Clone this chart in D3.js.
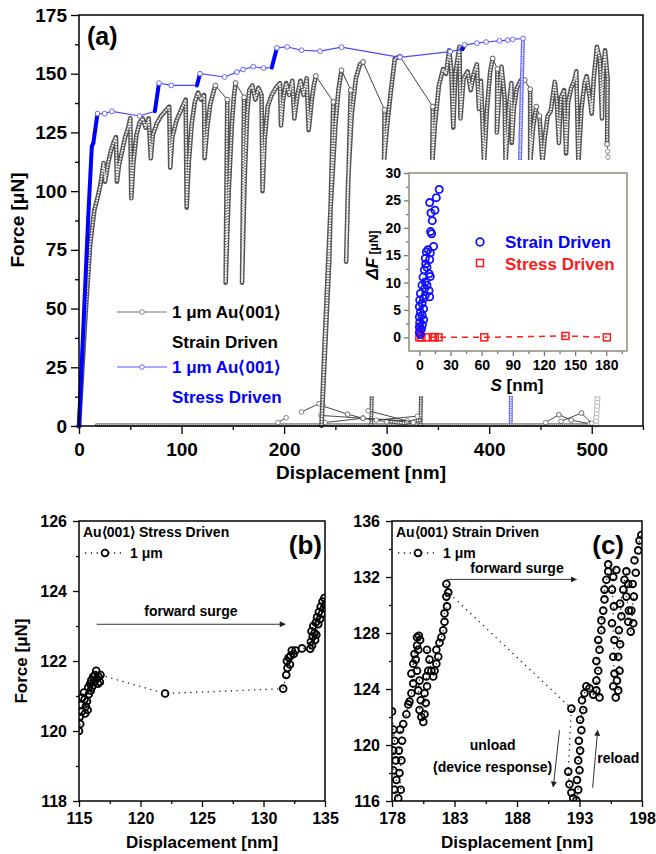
<!DOCTYPE html>
<html>
<head>
<meta charset="utf-8">
<script src="https://cdn.jsdelivr.net/npm/d3@7"></script>
<style>
  body { margin: 0; background: #fff; }
  svg text { font-family: "Liberation Sans", Arial, sans-serif; font-weight: bold; }
</style>
</head>
<body>
<div id="chart"></div>
<script>
///////////////////////////////////////////////
// Data ///////////////////////////////////////
///////////////////////////////////////////////

// (a) stress driven, displacement [nm] / force [uN]
var stressMain = [[0,0],[9,89],[12.5,119],[14,120.5],[18,133],[25,133],[32,134],[59,132],[74,134],[78,146],
  [90,145],[115,145],[118,150],[142,148.6],[154,150.7],[160,151.8],[170,153],[180,152.4],[188,152.6],[193,161],
  [203,161.4],[217,160],[235,159.6],[256,161.3],[313,157],[362,159.4],[374,160.5],[376,162.3],[388,163],
  [397,163.5],[410,164],[418,164.3],[423,164.6],[433,165]];
var stressDrop = [[433,165],[431.5,140],[430,112]];
var stressBottom = [[421,1.8],[421.2,13]];

// (a) strain driven, dense runs joined by forward surges
var strainRuns = [
  [[0,0],[6,45],[11,78],[15,92],[18,97],[21,103],[24,112],[25.5,104],[28,111],[31,117],[34,121],[36,123],[37,104],
   [39,111],[42,117],[45,123],[48,127],[50,131],[51,97],[53,112],[56,124],[59,129],[62,131],[65,127],[68,131],[70,114],
   [72,124],[76,129],[80,132],[84,134],[88,136],[89,110],[91,123],[95,130],[99,134],[104,139],[105,93],[107,112],
   [110,129],[113,138],[116,142],[119,139],[122,141],[122.5,114],[125,127],[128,137],[131,142],[133,145]],
  [[144.6,139],[143,61],[146,100],[149,128],[151,140],[152.7,146]],
  [[161,140],[159,61],[161.5,105],[164,133],[166,143],[169,145],[172,139],[175,144],[178,141],[179,100],[181,122],
   [184,136],[188,141],[192,144],[196,146],[197,128],[199,139],[202,146],[205,141],[208,147],[210,131],[213,141],
   [216,147],[219,141],[222,148],[224,126],[227,139],[229,145],[231,149]],
  [[248,138],[244,70],[236.5,0],[239,30],[245,90],[250,128],[253,143],[256,151.5]],
  [[265,143],[260.5,70],[262.5,105],[266,133],[270,148],[274,154],[277,155]],
  [[298,134.6],[297.5,113],[300,126],[304,142],[308,156.5],[313,157.3]],
  [[345,136],[344.5,112],[347,128],[351,145],[355,152],[358,150],[361,160],[363,152],[365,127],[367,150],[371,161.5],
   [372,131],[375,148],[379,151],[382,143],[385,150],[388,154],[390,135],[392,147],[395,112],[398,136],[401,151],[403.5,156.5]],
  [[408,152],[407.5,125],[410,143],[412,153],[415,140],[416,112],[419,135],[421.7,146],[422,120.5],[424,135],[427,144],
   [431,147.3],[434.7,147.3]],
  [[440,143.4],[440,112],[443,128],[446,136]],
  [[449,132],[452,112],[454,122],[457,132],[460,134],[464,146.5],[466,138],[468,120.5],[470,140],[473,143],[475,116],
   [477,138],[480,144],[483,147],[485,151],[487,112],[490,135],[493,146],[495,149],[498,140],[500,133],[502,148],
   [505,161.5],[508,156],[510,131],[511,150],[513,160],[515.5,148],[515,120]]
];
var strainTail = [[515,120],[515.5,117],[515.8,114.5],[516,112],[516,110]];
var strainBase = [[17,0.4],[500,0.4]];
var strainBottomBits = [[[285,0.5],[285.5,13]], [[333,0.5],[333.5,13]], [[300,2],[318,1.2],[333,2.5]]];
var clutterLines = [[[194,1.5],[202,3.5]], [[217,6],[234,9.5]], [[236,4.5],[277,3.3]], [[238,8.5],[262,5]],
  [[262,5],[277,3.3]], [[240,1.5],[277,3.3]], [[277,3.3],[300,1.8]], [[277,3.3],[320,2.2]], [[282,6.5],[326,1.5]],
  [[290,2.5],[330,4.2]], [[455,1.5],[468,4.8]], [[468,4.8],[480,2.5]], [[470,2],[490,5.5]], [[480,2.5],[498,1]],
  [[490,5.5],[500,1.2]]];
var openColumn = [[504.2,0.6],[504.4,2.2],[504.6,3.8],[504.8,5.4],[505,7],[505.2,8.6],[505.4,10.2],[505.6,11.8],[505.8,13.2]];

// inset, surge length S [nm] / force drop [uN]
var insetStrain = [[19.1,27.0],[16.3,25.5],[9.9,24.6],[15.0,23.2],[11.2,22.7],[12.4,21.3],[10.8,19.3],[11.8,18.9],
  [13.7,16.6],[8.3,16.0],[6.7,15.6],[10.5,15.4],[5.7,14.4],[9.9,14.2],[6.1,13.4],[7.3,12.8],[4.8,12.3],[9.3,11.6],
  [10.5,11.1],[3.5,11.0],[5.7,10.1],[2.6,9.5],[7.3,9.5],[5.1,8.9],[9.3,8.5],[1.0,8.0],[5.7,7.7],[9.9,7.4],[4.1,7.1],
  [0.3,6.8],[2.6,6.2],[0,5.6],[4.1,5.2],[1.0,4.6],[2.6,4.0],[0,3.7],[4.1,3.2],[0.3,2.7],[2.9,2.3],[0,1.9],[2.0,1.5],
  [0,0.9],[1.0,0.5]];
var insetStress = [[0,0],[0.5,1.3],[2,0],[6.7,0],[13,0],[14.7,0.05],[18.5,0],[62.5,0],[140.7,0.25],[180.6,0]];

// (b) stress driven detail
var panelB = [[115.0,120.0],[115.1,120.2],[115.05,120.4],[115.2,120.55],[115.15,120.75],[115.25,120.95],[115.4,121.1],
  [115.45,120.9],[115.55,120.7],[115.5,120.5],[115.7,120.6],[115.65,120.85],[115.8,121.05],[115.75,121.25],[115.9,121.35],
  [115.95,121.15],[116.05,121.25],[116.0,121.45],[116.15,121.55],[116.25,121.4],[116.3,121.6],[116.4,121.72],[116.45,121.5],
  [116.55,121.35],[116.6,121.55],[116.7,121.4],[116.75,121.6],
  [122.0,121.07],[131.6,121.21],
  [131.85,121.6],[131.95,121.8],[131.9,122.0],[132.05,122.1],[132.15,121.9],[132.2,122.15],[132.3,122.3],[132.45,122.2],
  [132.6,122.3],[133.13,122.36],
  [133.8,122.35],[133.85,122.55],[133.95,122.45],[134.0,122.7],[133.9,122.85],[134.05,123.0],[134.15,122.8],[134.2,122.6],
  [134.3,122.75],[134.25,123.1],[134.35,123.25],[134.45,123.05],[134.5,123.4],[134.6,123.2],[134.65,123.55],[134.75,123.35],
  [134.8,123.7],[134.9,123.5],[134.95,123.8],[135.0,123.6]];

// (c) strain driven detail
var panelC = [[178,122.4],[178.1,121.1],[178.2,120.3],[178.1,119.6],[178.3,118.9],[178.1,118.2],[178.35,117.5],[178.2,116.8],
  [178.5,116.2],[178.7,116.8],[178.6,118],[178.75,118.9],[178.55,119.6],[178.8,120.3],[178.65,121.1],[178.9,121.5],
  [179.15,122.2],[179.3,122.9],[179.4,123.1],[179.55,123.7],[179.7,124.4],[179.55,125.1],[179.7,125.8],[179.8,126.5],
  [180,127.1],[180,127.7],[180.15,127.8],[180.25,127.5],[180.1,126.8],[179.9,126.1],[180,125.3],[180.2,124.6],[180.1,123.9],
  [180.3,123.2],[180.2,122.5],[180.35,122],[180.5,121.65],[180.6,122.2],[180.7,123],[180.6,123.7],[180.8,124.2],
  [180.75,124.9],[180.9,125.3],[181,126.1],[180.8,126.8],[181.15,125.3],[181.3,124.9],[181.4,125.3],[181.55,125.8],
  [181.7,126.3],[181.55,126.8],[181.8,127.3],[181.95,127.7],[182.1,128.2],[182.2,128.8],[182.2,129.4],[182.4,129.9],
  [182.35,130.6],[182.35,131.5],[182.5,130.9],
  [192.35,122.6],[192.1,118.1],[192.2,117.2],[192.35,116.6],[192.5,116.2],[192.75,116.05],[192.9,116.8],[192.8,117.5],
  [193,118.2],[192.9,118.9],[193.05,119.6],[192.95,120.3],[193.15,121.05],[193.05,121.8],[193.3,122.5],[193.2,123.2],
  [193.4,123.7],[193.55,124.2],[193.8,124.05],[194.1,123.6],[194.35,123.9],[194.6,123.4],[194.35,124.6],[194.5,125.3],
  [194.35,126.0],[194.6,126.8],[194.5,127.5],[194.75,128.2],[194.75,128.9],[194.9,129.6],[195,130.4],[195,131.1],
  [195.15,131.8],[195.3,132.4],[195.3,132.9],[195.95,132.5],[195.7,132],[195.6,131.1],[195.75,129.9],[195.6,128.7],
  [195.8,127.5],[195.7,126.3],[195.8,125.1],[195.7,124.2],[195.9,123.4],[196.1,123.9],[196,124.6],[196.2,125.3],
  [196.1,126.3],[196.25,127.2],[196.15,128.2],[196.35,129.2],[196.25,130.1],[196.5,131.1],[196.6,131.8],[196.75,132.4],
  [196.9,131.5],[196.75,130.6],[196.95,129.6],[196.9,128.8],[197.1,128.1],[197.3,128.7],[197.15,129.6],[197.35,130.6],
  [197.25,131.5],[197.5,132.3],[197.4,133.2],[197.7,133.9],[197.8,134.6],[197.95,135]];

///////////////////////////////////////////////
// Setup //////////////////////////////////////
///////////////////////////////////////////////

var svg = d3.select("#chart").append("svg")
    .attr("width", 656)
    .attr("height", 854);

var blue = "#0000ff", lightBlue = "#6b6bff", red = "#ff1a1a";

function axes(g, x, y, o) {
  var yb = y.range()[0], xl = x.range()[0];
  function style(s) {
    s.select(".domain").remove();
    s.selectAll(".tick line").attr("stroke", o.tickColor).attr("stroke-width", 1.3);
    s.selectAll(".tick text").attr("fill", "#000").attr("font-size", o.font);
  }
  g.append("g").attr("transform", "translate(0," + yb + ")")
    .call(d3.axisBottom(x).tickValues(o.xMinor).tickSize(o.minor).tickFormat("")).call(style);
  g.append("g").attr("transform", "translate(0," + yb + ")")
    .call(d3.axisBottom(x).tickValues(o.xTicks).tickSize(o.major).tickPadding(o.xPad)).call(style);
  g.append("g").attr("transform", "translate(" + xl + ",0)")
    .call(d3.axisLeft(y).tickValues(o.yMinor).tickSize(o.minor).tickFormat("")).call(style);
  g.append("g").attr("transform", "translate(" + xl + ",0)")
    .call(d3.axisLeft(y).tickValues(o.yTicks).tickSize(o.major).tickPadding(o.yPad)).call(style);
  g.append("rect")
    .attr("x", xl).attr("y", y.range()[1])
    .attr("width", x.range()[1] - xl).attr("height", yb - y.range()[1])
    .attr("fill", "none").attr("stroke", o.frame).attr("stroke-width", 1.5);
}

// dense chain of small open circles: dark band with light dots inside
function dense(g, line, pts, col, w) {
  g.append("path").attr("d", line(pts))
    .attr("fill", "none").attr("stroke", col).attr("stroke-width", w)
    .attr("stroke-linecap", "round").attr("stroke-linejoin", "round");
  g.append("path").attr("d", line(pts))
    .attr("fill", "none").attr("stroke", "#f4f4f4").attr("stroke-width", w * 0.46)
    .attr("stroke-dasharray", "0 " + (w * 0.6)).attr("stroke-linecap", "round");
}

///////////////////////////////////////////////
// Panel (a) //////////////////////////////////
///////////////////////////////////////////////

var xa = d3.scaleLinear().domain([0, 550]).range([79, 643]);
var ya = d3.scaleLinear().domain([0, 175]).range([426, 15]);
var lineA = d3.line().x(function(d) { return xa(d[0]); }).y(function(d) { return ya(d[1]); });
var ga = svg.append("g");

// strain driven (grey)
dense(ga, lineA, strainBase, "#7a7a7a", 3.4);
strainBottomBits.forEach(function(b) { dense(ga, lineA, b, "#5a5a5a", 4); });
clutterLines.forEach(function(l) {
  ga.append("path").attr("d", lineA(l)).attr("stroke", "#333").attr("stroke-width", 0.9).attr("fill", "none");
  l.forEach(function(p) {
    ga.append("circle").attr("cx", xa(p[0])).attr("cy", ya(p[1])).attr("r", 2.3)
      .attr("fill", "#fff").attr("stroke", "#666").attr("stroke-width", 0.8);
  });
});
ga.selectAll(".openCol").data(openColumn).enter().append("circle")
  .attr("cx", function(d) { return xa(d[0]); }).attr("cy", function(d) { return ya(d[1]); })
  .attr("r", 2.6).attr("fill", "#fff").attr("stroke", "#aaa").attr("stroke-width", 0.9);

// forward surges between runs
for (var i = 0; i < strainRuns.length; i++) {
  var end = strainRuns[i][strainRuns[i].length - 1];
  var next = i + 1 < strainRuns.length ? strainRuns[i + 1][0] : strainTail[0];
  ga.append("path").attr("d", lineA([end, next])).attr("stroke", "#444").attr("stroke-width", 1).attr("fill", "none");
}
ga.append("path").attr("d", lineA(strainTail)).attr("stroke", "#666").attr("stroke-width", 1).attr("fill", "none");
strainRuns.forEach(function(r) { dense(ga, lineA, r, "#555", 4.6); });
strainRuns.forEach(function(r) {
  [r[0], r[r.length - 1]].forEach(function(p) {
    ga.append("circle").attr("cx", xa(p[0])).attr("cy", ya(p[1])).attr("r", 2.4)
      .attr("fill", "#fff").attr("stroke", "#555").attr("stroke-width", 0.9);
  });
});
ga.selectAll(".tail").data(strainTail).enter().append("circle")
  .attr("cx", function(d) { return xa(d[0]); }).attr("cy", function(d) { return ya(d[1]); })
  .attr("r", 2.2).attr("fill", "#fff").attr("stroke", "#777").attr("stroke-width", 0.8);

// stress driven (blue)
ga.append("path").attr("d", lineA(stressMain)).attr("stroke", "#4a4aff").attr("stroke-width", 1.2).attr("fill", "none");
dense(ga, lineA, stressDrop, lightBlue, 4);
dense(ga, lineA, stressBottom, lightBlue, 4);
for (var j = 1; j < stressMain.length; j++) {
  var a = stressMain[j - 1], b = stressMain[j];
  if ((b[1] - a[1]) / (b[0] - a[0]) > 0.8) {
    ga.append("path").attr("d", lineA([a, b])).attr("stroke", blue).attr("stroke-width", 4)
      .attr("stroke-linecap", "round").attr("fill", "none");
  } else if (j > 4) {
    ga.append("circle").attr("cx", xa(a[0])).attr("cy", ya(a[1])).attr("r", 2.4)
      .attr("fill", "#fff").attr("stroke", "#5a5aff").attr("stroke-width", 0.9);
  }
}
ga.append("circle").attr("cx", xa(433)).attr("cy", ya(165)).attr("r", 2.4)
  .attr("fill", "#fff").attr("stroke", "#5a5aff").attr("stroke-width", 0.9);

axes(svg.append("g"), xa, ya, {
  xTicks: [0, 100, 200, 300, 400, 500], xMinor: [50, 150, 250, 350, 450, 550],
  yTicks: d3.range(0, 176, 25), yMinor: d3.range(12.5, 175, 25),
  major: 8, minor: 4, xPad: 9, yPad: 4, font: 19, tickColor: "#000", frame: "#000"
});

svg.append("text").attr("x", 87).attr("y", 45).attr("font-size", 25).text("(a)");
svg.append("text").attr("transform", "translate(24,220) rotate(-90)")
  .attr("text-anchor", "middle").attr("font-size", 19).text("Force [\u03bcN]");
svg.append("text").attr("x", 361).attr("y", 479)
  .attr("text-anchor", "middle").attr("font-size", 19).text("Displacement [nm]");

// legend (a)
var legA = svg.append("g");
[["#777", 312, "#000", 318, "Strain Driven", 348], ["#5a5aff", 367, blue, 373, "Stress Driven", 403]].forEach(function(l) {
  legA.append("line").attr("x1", 117).attr("x2", 167).attr("y1", l[1]).attr("y2", l[1])
    .attr("stroke", l[0]).attr("stroke-width", 1.2);
  legA.append("circle").attr("cx", 142).attr("cy", l[1]).attr("r", 2.3)
    .attr("fill", "#fff").attr("stroke", l[0]).attr("stroke-width", 0.9);
  legA.append("text").attr("x", 172).attr("y", l[3]).attr("font-size", 17).attr("fill", l[2])
    .text("1 \u03bcm Au\u27e8001\u27e9");
  legA.append("text").attr("x", 172).attr("y", l[5]).attr("font-size", 17).attr("fill", l[2]).text(l[4]);
});

///////////////////////////////////////////////
// Inset //////////////////////////////////////
///////////////////////////////////////////////

svg.append("rect").attr("x", 362).attr("y", 160).attr("width", 270).attr("height", 236).attr("fill", "#fff");
var xi = d3.scaleLinear().domain([-10, 200]).range([409, 627]);
var yi = d3.scaleLinear().domain([-2.5, 30]).range([351, 173]);
var gi = svg.append("g");
axes(gi, xi, yi, {
  xTicks: d3.range(0, 181, 30), xMinor: d3.range(15, 200, 30),
  yTicks: d3.range(0, 31, 5), yMinor: d3.range(2.5, 30, 5),
  major: 5, minor: 3, xPad: 4, yPad: 3, font: 14, tickColor: "#777", frame: "#8c8c80"
});
gi.append("path").attr("d", d3.line().x(function(d) { return xi(d[0]); }).y(function(d) { return yi(d[1]); })(insetStress))
  .attr("fill", "none").attr("stroke", red).attr("stroke-width", 1.5).attr("stroke-dasharray", "6 5");
gi.selectAll(".sq").data(insetStress).enter().append("rect")
  .attr("x", function(d) { return xi(d[0]) - 3.5; }).attr("y", function(d) { return yi(d[1]) - 3.5; })
  .attr("width", 7).attr("height", 7).attr("fill", "none").attr("stroke", red).attr("stroke-width", 1.5);
gi.selectAll(".ci").data(insetStrain).enter().append("circle")
  .attr("cx", function(d) { return xi(d[0]); }).attr("cy", function(d) { return yi(d[1]); })
  .attr("r", 3.6).attr("fill", "none").attr("stroke", "#1010ff").attr("stroke-width", 1.8);

gi.append("circle").attr("cx", 480).attr("cy", 242).attr("r", 3.8).attr("fill", "none").attr("stroke", "#1010ff").attr("stroke-width", 1.8);
gi.append("text").attr("x", 505).attr("y", 248).attr("font-size", 17).attr("fill", blue).text("Strain Driven");
gi.append("rect").attr("x", 476.5).attr("y", 259.5).attr("width", 7).attr("height", 7).attr("fill", "none").attr("stroke", red).attr("stroke-width", 1.5);
gi.append("text").attr("x", 505).attr("y", 270).attr("font-size", 17).attr("fill", red).text("Stress Driven");

var sl = gi.append("text").attr("x", 517).attr("y", 391).attr("text-anchor", "middle").attr("font-size", 17);
sl.append("tspan").attr("font-style", "italic").text("S");
sl.append("tspan").text(" [nm]");
var fl = gi.append("text").attr("transform", "translate(378,255) rotate(-90)").attr("text-anchor", "middle").attr("font-size", 17);
fl.append("tspan").attr("font-style", "italic").text("\u0394F");
fl.append("tspan").attr("font-size", 12).text(" [\u03bcN]");

///////////////////////////////////////////////
// Panels (b) and (c) /////////////////////////
///////////////////////////////////////////////

var defs = svg.append("defs");
defs.append("marker").attr("id", "arrow").attr("viewBox", "0 0 10 10").attr("refX", 9).attr("refY", 5)
  .attr("markerWidth", 9).attr("markerHeight", 6).attr("markerUnits", "userSpaceOnUse").attr("orient", "auto")
  .append("path").attr("d", "M0,0L10,5L0,10Z").attr("fill", "#222");

function detail(id, x, y, pts, opt) {
  var g = svg.append("g");
  defs.append("clipPath").attr("id", id).append("rect")
    .attr("x", x.range()[0]).attr("y", y.range()[1])
    .attr("width", x.range()[1] - x.range()[0]).attr("height", y.range()[0] - y.range()[1]);
  var pg = g.append("g").attr("clip-path", "url(#" + id + ")");
  var line = d3.line().x(function(d) { return x(d[0]); }).y(function(d) { return y(d[1]); });
  pg.append("path").attr("d", line(pts)).attr("fill", "none").attr("stroke", "#222")
    .attr("stroke-width", 1.3).attr("stroke-dasharray", "1.3 4.5");
  pg.selectAll("circle").data(pts).enter().append("circle")
    .attr("cx", function(d) { return x(d[0]); }).attr("cy", function(d) { return y(d[1]); })
    .attr("r", 3.4).attr("fill", "none").attr("stroke", "#000").attr("stroke-width", 1.8);
  axes(g, x, y, opt);
  var x0 = x.range()[0];
  g.append("text").attr("x", x0 + 4).attr("y", 537).attr("font-size", 14).text(opt.title);
  g.append("line").attr("x1", x0 + 6).attr("x2", x0 + 42).attr("y1", 553).attr("y2", 553)
    .attr("stroke", "#222").attr("stroke-width", 1.3).attr("stroke-dasharray", "1.3 4.5");
  g.append("circle").attr("cx", x0 + 26).attr("cy", 553).attr("r", 3.4)
    .attr("fill", "#fff").attr("stroke", "#000").attr("stroke-width", 1.8);
  g.append("text").attr("x", x0 + 51).attr("y", 558).attr("font-size", 14).text("1 \u03bcm");
  g.append("text").attr("x", opt.tagX).attr("y", 554).attr("text-anchor", "end").attr("font-size", 26).text(opt.tag);
  g.append("text").attr("x", (x.range()[0] + x.range()[1]) / 2).attr("y", 848)
    .attr("text-anchor", "middle").attr("font-size", 17).text("Displacement [nm]");
  return g;
}

function arrow(g, x1, y1, x2, y2) {
  g.append("line").attr("x1", x1).attr("y1", y1).attr("x2", x2).attr("y2", y2)
    .attr("stroke", "#333").attr("stroke-width", 1).attr("marker-end", "url(#arrow)");
}

var xb = d3.scaleLinear().domain([115, 135]).range([79, 325]);
var yb = d3.scaleLinear().domain([118, 126]).range([801, 521]);
var gb = detail("clipB", xb, yb, panelB, {
  xTicks: d3.range(115, 136, 5), xMinor: d3.range(117.5, 135, 5),
  yTicks: d3.range(118, 127, 2), yMinor: d3.range(119, 126, 2),
  major: 6, minor: 3, xPad: 6, yPad: 6, font: 16, tickColor: "#000", frame: "#000",
  title: "Au\u27e8001\u27e9 Stress Driven", tag: "(b)", tagX: 322
});
svg.append("text").attr("transform", "translate(27,661) rotate(-90)")
  .attr("text-anchor", "middle").attr("font-size", 17).text("Force [\u03bcN]");
arrow(gb, xb(116.44), yb(123.05), xb(131.76), yb(123.05));
gb.append("text").attr("x", xb(124.1)).attr("y", yb(123.3)).attr("text-anchor", "middle")
  .attr("font-size", 14).text("forward surge");

var xc = d3.scaleLinear().domain([178, 198]).range([392, 642]);
var yc = d3.scaleLinear().domain([116, 136]).range([801, 521]);
var gc = detail("clipC", xc, yc, panelC, {
  xTicks: d3.range(178, 199, 5), xMinor: d3.range(180.5, 198, 5),
  yTicks: d3.range(116, 137, 4), yMinor: d3.range(118, 136, 4),
  major: 6, minor: 3, xPad: 6, yPad: 6, font: 16, tickColor: "#000", frame: "#000",
  title: "Au\u27e8001\u27e9 Strain Driven", tag: "(c)", tagX: 624
});
arrow(gc, xc(182.35), yc(131.83), xc(192.75), yc(131.83));
gc.append("text").attr("x", xc(188)).attr("y", yc(132.3)).attr("text-anchor", "middle")
  .attr("font-size", 14).text("forward surge");
arrow(gc, xc(191.4), yc(121.05), xc(190.9), yc(117.0));
arrow(gc, xc(194.05), yc(116.95), xc(194.45), yc(121.05));
gc.append("text").attr("x", xc(186.05)).attr("y", yc(119.65)).attr("text-anchor", "middle")
  .attr("font-size", 14).text("unload");
gc.append("text").attr("x", xc(186.05)).attr("y", yc(118.05)).attr("text-anchor", "middle")
  .attr("font-size", 14).text("(device response)");
gc.append("text").attr("x", xc(196.1)).attr("y", yc(118.7)).attr("text-anchor", "middle")
  .attr("font-size", 14).text("reload");
</script>
</body>
</html>
